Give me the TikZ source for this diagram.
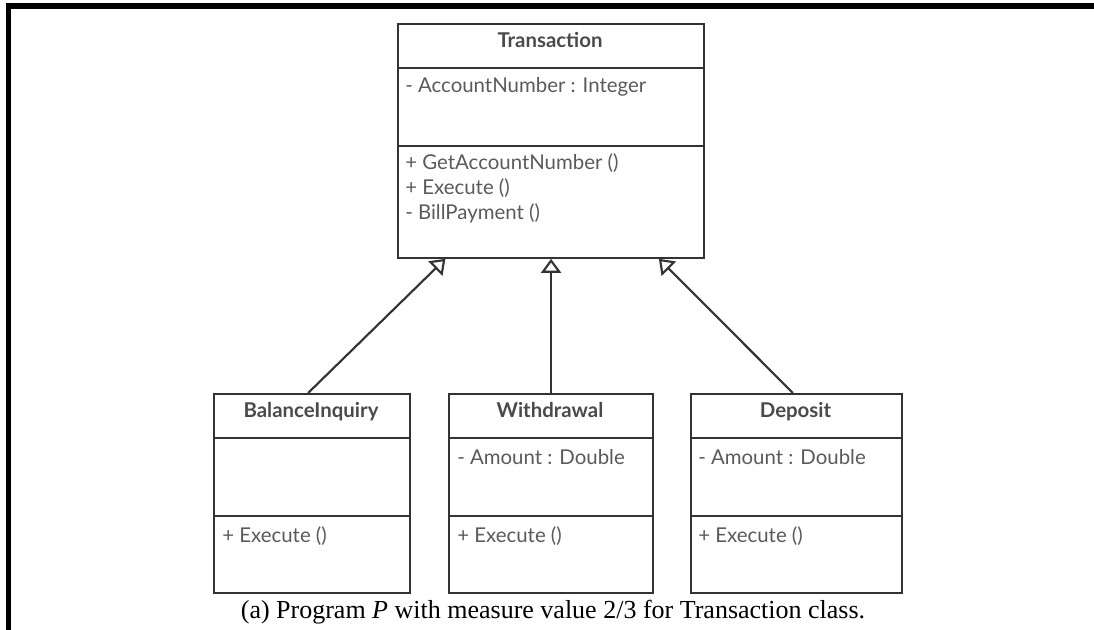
\documentclass[tikz,border=0pt]{standalone}
\usepackage{fontspec}
\setmainfont{Liberation Serif}
\newfontfamily\lato{Lato}
\usetikzlibrary{arrows.meta,calc}
\definecolor{boxline}{HTML}{333333}
\definecolor{txtgray}{HTML}{5A5A5A}
\definecolor{ttlgray}{HTML}{4A4A4A}
\begin{document}
\begin{tikzpicture}[x=0.75pt,y=-0.75pt,
  clsbox/.style={draw=boxline,line width=1.6pt,inner sep=0pt,anchor=north west,fill=none},
  divline/.style={draw=boxline,line width=1.6pt},
  clstitle/.style={font=\lato\bfseries\fontsize{15.3pt}{18pt}\selectfont,text=ttlgray,anchor=base,inner sep=0pt},
  clstext/.style={font=\lato\fontsize{15.3pt}{18pt}\selectfont,text=txtgray,anchor=base west,inner sep=0pt},
  inh/.style={draw=boxline,line width=1.6pt,-{Triangle[open,length=10.5pt,width=15pt]}},
  framel/.style={draw=black,line cap=butt}]
\useasboundingbox (0,0) rectangle (1094,630);
% frame
\draw[framel,line width=4.5pt] (6,6.3) -- (1094,6.3);
\draw[framel,line width=3.75pt] (8.5,3.3) -- (8.5,630);

% Transaction
\node[clsbox,minimum width=229.5pt,minimum height=175.5pt] (trans) at (397,22.7) {};
\draw[divline] ($(trans.north west)+(0,45.3)$) -- ($(trans.north east)+(0,45.3)$);
\draw[divline] ($(trans.north west)+(0,123.3)$) -- ($(trans.north east)+(0,123.3)$);
\node[clstitle] (transname) at (550,47.5) {Transaction};
\node[clstext] (transattr) at (405,93) {- AccountNumber : Integer};
\node[clstext] (transop1) at (405,170) {+ GetAccountNumber ()};
\node[clstext] (transop2) at (405,195) {+ Execute ()};
\node[clstext] (transop3) at (405,220) {- BillPayment ()};

% BalanceInquiry
\node[clsbox,minimum width=147pt,minimum height=149.25pt] (bi) at (213,393) {};
\draw[divline] ($(bi.north west)+(0,45)$) -- ($(bi.north east)+(0,45)$);
\draw[divline] ($(bi.north west)+(0,123)$) -- ($(bi.north east)+(0,123)$);
\node[clstitle] (biname) at (311,417) {BalanceInquiry};
\node[clstext] (biop) at (222,542) {+ Execute ()};

% Withdrawal
\node[clsbox,minimum width=153pt,minimum height=149.25pt] (wd) at (448,393) {};
\draw[divline] ($(wd.north west)+(0,45)$) -- ($(wd.north east)+(0,45)$);
\draw[divline] ($(wd.north west)+(0,123)$) -- ($(wd.north east)+(0,123)$);
\node[clstitle] (wdname) at (550,417) {Withdrawal};
\node[clstext] (wdattr) at (457,464) {- Amount : Double};
\node[clstext] (wdop) at (457,542) {+ Execute ()};

% Deposit
\node[clsbox,minimum width=158.25pt,minimum height=149.25pt] (dp) at (690,393) {};
\draw[divline] ($(dp.north west)+(0,45)$) -- ($(dp.north east)+(0,45)$);
\draw[divline] ($(dp.north west)+(0,123)$) -- ($(dp.north east)+(0,123)$);
\node[clstitle] (dpname) at (795.5,417) {Deposit};
\node[clstext] (dpattr) at (698,464) {- Amount : Double};
\node[clstext] (dpop) at (698,542) {+ Execute ()};

% inheritance connectors
\draw[inh] ($(bi.north west)!0.48!(bi.north east)$) -- ($(trans.south west)!0.157!(trans.south east)$);
\draw[inh] (wd.north) -- (wd.north |- trans.south);
\draw[inh] ($(dp.north west)!0.483!(dp.north east)$) -- ($(trans.south west)!0.85!(trans.south east)$);

% caption
\node[anchor=base,inner sep=0pt,font=\fontsize{19.5pt}{22pt}\selectfont] (cap) at (553,618) {(a) Program \textit{P} with measure value 2/3 for Transaction class.};
\end{tikzpicture}
\end{document}
